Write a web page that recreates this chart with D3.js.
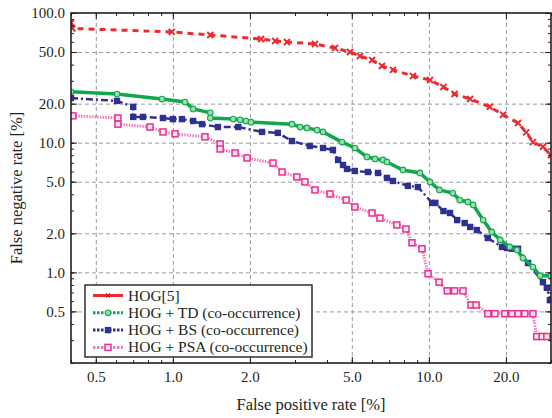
<!DOCTYPE html>
<html>
<head>
<meta charset="utf-8">
<script src="https://cdn.jsdelivr.net/npm/d3@7"></script>
<style>
body { margin: 0; background: #fff; }
svg text { font-family: "Liberation Serif", "DejaVu Serif", serif; fill: #231f20; }
</style>
</head>
<body>
<div id="chart-area"></div>
<script>
/*
*    DET curves, log-log
*/

// ---- data (false positive rate [%], false negative rate [%]) ----
var hogFpr = [0.40, 0.405, 0.99, 1.40, 2.21, 2.51, 2.79, 3.59, 4.30, 4.92, 5.38, 6.00, 6.56, 7.24, 8.67, 10.1, 11.4, 12.6, 14.5, 17.3, 19.5, 22.3, 24.0, 25.5, 27.9, 30.0];
var hogFnr = [84, 76, 71.5, 67.6, 63.0, 60.8, 59.8, 57.7, 53.7, 50.0, 46.6, 43.4, 39.0, 36.4, 32.7, 30.4, 26.9, 23.7, 21.7, 18.9, 16.4, 14.2, 12.0, 10.1, 9.3, 8.0];

var tdFpr = [0.40, 0.605, 0.907, 1.115, 1.20, 1.40, 1.40, 1.72, 1.83, 1.93, 2.02, 2.92, 3.14, 3.34, 3.66, 3.86, 4.58, 5.14, 5.73, 6.16, 6.62, 6.86, 7.92, 9.23, 10.1, 11.0, 12.4, 13.2, 14.2, 14.9, 16.3, 17.6, 19.0, 20.7, 22.1, 23.3, 25.5, 27.2, 30.0];
var tdFnr = [24.7, 23.7, 21.7, 20.6, 18.2, 17.0, 15.5, 15.2, 15.0, 14.7, 14.4, 13.9, 13.2, 13.0, 12.5, 12.1, 10.1, 9.1, 7.76, 7.49, 7.36, 7.10, 6.16, 5.84, 4.98, 4.32, 4.09, 3.61, 3.49, 3.31, 2.53, 2.05, 1.78, 1.57, 1.49, 1.29, 1.10, 0.94, 0.94];

var bsFpr = [0.40, 0.605, 0.70, 0.70, 0.764, 0.915, 1.0, 1.085, 1.20, 1.30, 1.50, 1.80, 2.23, 2.57, 2.92, 3.43, 3.86, 4.22, 4.42, 4.62, 4.79, 5.14, 5.78, 6.33, 6.86, 7.24, 8.28, 9.06, 10.3, 10.6, 11.4, 12.1, 12.9, 13.8, 14.5, 15.4, 17.0, 19.3, 20.2, 21.1, 22.3, 24.4, 27.9, 28.9, 29.7];
var bsFnr = [22.1, 21.0, 18.9, 15.8, 15.8, 15.5, 15.2, 15.2, 14.7, 13.9, 13.2, 13.2, 12.1, 11.9, 10.3, 9.43, 9.10, 8.79, 7.36, 6.73, 6.27, 6.05, 5.94, 5.84, 5.35, 5.07, 4.64, 4.55, 3.43, 3.43, 2.97, 2.87, 2.53, 2.40, 2.24, 2.12, 1.84, 1.57, 1.54, 1.52, 1.52, 1.18, 0.84, 0.76, 0.61];

var psaFpr = [0.407, 0.61, 0.61, 0.814, 0.915, 1.02, 1.335, 1.53, 1.53, 1.75, 1.95, 2.46, 2.67, 3.05, 3.28, 3.59, 4.11, 4.75, 5.14, 6.00, 6.44, 7.50, 8.14, 8.59, 9.40, 9.93, 10.96, 11.8, 12.6, 13.6, 14.6, 15.3, 17.0, 18.1, 19.8, 21.1, 22.3, 23.7, 25.5, 26.4, 27.7, 28.9];
var psaFnr = [16.1, 15.5, 13.9, 13.2, 12.1, 11.7, 11.1, 9.77, 8.94, 8.33, 7.62, 6.97, 5.94, 5.44, 4.98, 4.32, 4.02, 3.61, 3.19, 2.87, 2.62, 2.32, 2.16, 1.69, 1.52, 0.975, 0.84, 0.72, 0.72, 0.72, 0.56, 0.56, 0.48, 0.48, 0.48, 0.48, 0.48, 0.48, 0.48, 0.32, 0.32, 0.32];

var legendLabels = ["HOG[5]", "HOG + TD (co-occurrence)", "HOG + BS (co-occurrence)", "HOG + PSA (co-occurrence)"];

var xMajor = [0.5, 1, 2, 5, 10, 20];
var yMajor = [0.5, 1, 2, 5, 10, 20, 50, 100];

// ---- layout ----
var W = 552, H = 418;
var pLeft = 71, pRight = 551, pTop = 13, pBottom = 363;

var svg = d3.select("#chart-area").append("svg")
    .attr("width", W)
    .attr("height", H);

var x = d3.scaleLog().domain([0.4, 30]).range([pLeft, pRight]);
var y = d3.scaleLog().domain([0.2, 100]).range([pBottom, pTop]);

var fmt = d3.format(".1f");

function minorTicks(scale) {
    var d = scale.domain(), out = [];
    for (var e = -1; e <= 2; e++) {
        for (var m = 1; m <= 9; m++) {
            var v = m * Math.pow(10, e);
            if (v >= d[0] && v <= d[1]) out.push(v);
        }
    }
    return out;
}

// grid
var grid = svg.append("g").attr("class", "grid");
grid.append("g")
    .attr("transform", "translate(0," + pBottom + ")")
    .call(d3.axisBottom(x).tickValues(xMajor).tickSize(-(pBottom - pTop)).tickFormat(""));
grid.append("g")
    .attr("transform", "translate(" + pLeft + ",0)")
    .call(d3.axisLeft(y).tickValues(yMajor.filter(function(v) { return v < 100; }))
        .tickSize(-(pRight - pLeft)).tickFormat(""));
grid.selectAll(".domain").remove();
grid.selectAll("line")
    .attr("stroke", "#9a9ca0")
    .attr("stroke-width", 1)
    .attr("stroke-dasharray", "4,3");

// curves
svg.append("clipPath").attr("id", "plot-clip")
    .append("rect")
    .attr("x", pLeft).attr("y", pTop)
    .attr("width", pRight - pLeft).attr("height", pBottom - pTop);

var plot = svg.append("g").attr("clip-path", "url(#plot-clip)");

var line = d3.line()
    .x(function(d) { return x(d[0]); })
    .y(function(d) { return y(d[1]); });

function pairs(xs, ys) { return xs.map(function(v, i) { return [v, ys[i]]; }); }

var series = [
    { key: "hog", data: pairs(hogFpr, hogFnr), color: "#ed2a2f", width: 3, dash: "6,5", marker: "x" },
    { key: "td", data: pairs(tdFpr, tdFnr), color: "#0fa84b", width: 3.5, dash: null, marker: "circle" },
    { key: "bs", data: pairs(bsFpr, bsFnr), color: "#2e3192", width: 2.5, dash: "7,3,2,3", marker: "fsquare" },
    { key: "psa", data: pairs(psaFpr, psaFnr), color: "#f37bbd", width: 3, dash: "1.5,1.2", marker: "osquare" }
];

function drawMarkers(g, s, pts) {
    var m = g.append("g").attr("class", "markers " + s.key);
    pts.forEach(function(p) {
        if (s.marker == "x") {
            m.append("path")
                .attr("d", "M-3,-3L3,3M-3,3L3,-3")
                .attr("transform", "translate(" + p[0] + "," + p[1] + ")")
                .attr("stroke", s.color).attr("stroke-width", 2).attr("fill", "none");
        } else if (s.marker == "circle") {
            m.append("circle")
                .attr("cx", p[0]).attr("cy", p[1]).attr("r", 2.8)
                .attr("fill", "#9bdcb0").attr("stroke", "#12a84c").attr("stroke-width", 1.1);
        } else if (s.marker == "fsquare") {
            m.append("rect")
                .attr("x", p[0] - 3.2).attr("y", p[1] - 3.2)
                .attr("width", 6.4).attr("height", 6.4)
                .attr("fill", "#2e3192");
        } else {
            m.append("rect")
                .attr("x", p[0] - 3).attr("y", p[1] - 3)
                .attr("width", 6).attr("height", 6)
                .attr("fill", "#fde6f2").attr("stroke", "#e8308f").attr("stroke-width", 1.5);
        }
    });
}

// draw from back to front like the reference
[series[0], series[3], series[2], series[1]].forEach(function(s) {
    plot.append("path")
        .attr("fill", "none")
        .attr("stroke", s.color)
        .attr("stroke-width", s.width)
        .attr("stroke-dasharray", s.dash)
        .attr("d", line(s.data));
    drawMarkers(plot, s, s.data.map(function(d) { return [x(d[0]), y(d[1])]; }));
});

// axes: major + minor ticks pointing inwards on all four sides
function styleAxis(g) {
    g.select(".domain").remove();
    g.selectAll("line").attr("stroke", "#231f20").attr("stroke-width", 1);
}

svg.append("g").attr("transform", "translate(0," + pBottom + ")")
    .call(d3.axisBottom(x).tickValues(xMajor).tickSizeInner(-6).tickSizeOuter(0)
        .tickPadding(8).tickFormat(fmt))
    .call(styleAxis);
svg.append("g").attr("transform", "translate(0," + pBottom + ")")
    .call(d3.axisBottom(x).tickValues(minorTicks(x)).tickSizeInner(-3).tickSizeOuter(0).tickFormat(""))
    .call(styleAxis);
svg.append("g").attr("transform", "translate(0," + pTop + ")")
    .call(d3.axisTop(x).tickValues(xMajor).tickSizeInner(-6).tickSizeOuter(0).tickFormat(""))
    .call(styleAxis);
svg.append("g").attr("transform", "translate(0," + pTop + ")")
    .call(d3.axisTop(x).tickValues(minorTicks(x)).tickSizeInner(-3).tickSizeOuter(0).tickFormat(""))
    .call(styleAxis);

svg.append("g").attr("transform", "translate(" + pLeft + ",0)")
    .call(d3.axisLeft(y).tickValues(yMajor).tickSizeInner(-6).tickSizeOuter(0)
        .tickPadding(6).tickFormat(fmt))
    .call(styleAxis);
svg.append("g").attr("transform", "translate(" + pLeft + ",0)")
    .call(d3.axisLeft(y).tickValues(minorTicks(y)).tickSizeInner(-3).tickSizeOuter(0).tickFormat(""))
    .call(styleAxis);
svg.append("g").attr("transform", "translate(" + pRight + ",0)")
    .call(d3.axisRight(y).tickValues(yMajor).tickSizeInner(-6).tickSizeOuter(0).tickFormat(""))
    .call(styleAxis);
svg.append("g").attr("transform", "translate(" + pRight + ",0)")
    .call(d3.axisRight(y).tickValues(minorTicks(y)).tickSizeInner(-3).tickSizeOuter(0).tickFormat(""))
    .call(styleAxis);

svg.selectAll(".tick text")
    .attr("font-size", "15px")
    .attr("font-family", "Liberation Serif, serif")
    .attr("fill", "#231f20");

// frame
svg.append("rect")
    .attr("x", pLeft).attr("y", pTop)
    .attr("width", pRight - pLeft).attr("height", pBottom - pTop)
    .attr("fill", "none")
    .attr("stroke", "#231f20")
    .attr("stroke-width", 1.6);

// labels
svg.append("text")
    .attr("x", (pLeft + pRight) / 2)
    .attr("y", 410)
    .attr("font-size", "16.5px")
    .attr("text-anchor", "middle")
    .text("False positive rate [%]");
svg.append("text")
    .attr("transform", "rotate(-90)")
    .attr("x", -(pTop + pBottom) / 2)
    .attr("y", 22)
    .attr("font-size", "16.5px")
    .attr("text-anchor", "middle")
    .text("False negative rate [%]");

// legend
var legend = svg.append("g").attr("class", "legend");
legend.append("rect")
    .attr("x", 85).attr("y", 285)
    .attr("width", 227).attr("height", 72)
    .attr("fill", "#fff")
    .attr("stroke", "#231f20")
    .attr("stroke-width", 1.4);

var legendStyle = [
    { color: "#ed2a2f", dash: null, width: 3 },
    { color: "#0fa84b", dash: "2.5,1.5", width: 3 },
    { color: "#2e3192", dash: "2.5,1.5", width: 3 },
    { color: "#f37bbd", dash: "2.5,1.5", width: 3 }
];

legendLabels.forEach(function(lbl, i) {
    var ly = 295.5 + i * 17.3;
    var st = legendStyle[i];
    legend.append("line")
        .attr("x1", 93).attr("x2", 123)
        .attr("y1", ly).attr("y2", ly)
        .attr("stroke", st.color)
        .attr("stroke-width", st.width)
        .attr("stroke-dasharray", st.dash);
    var s = series[i];
    if (i == 0) {
        legend.append("path")
            .attr("d", "M-2,-2L2,2M-2,2L2,-2")
            .attr("transform", "translate(108," + ly + ")")
            .attr("stroke", "#c81e24").attr("stroke-width", 1.2);
    } else {
        drawMarkers(legend, s, [[108, ly]]);
    }
    legend.append("text")
        .attr("x", 128)
        .attr("y", ly + 5)
        .attr("font-size", "15.5px")
        .text(lbl);
});
</script>
</body>
</html>
